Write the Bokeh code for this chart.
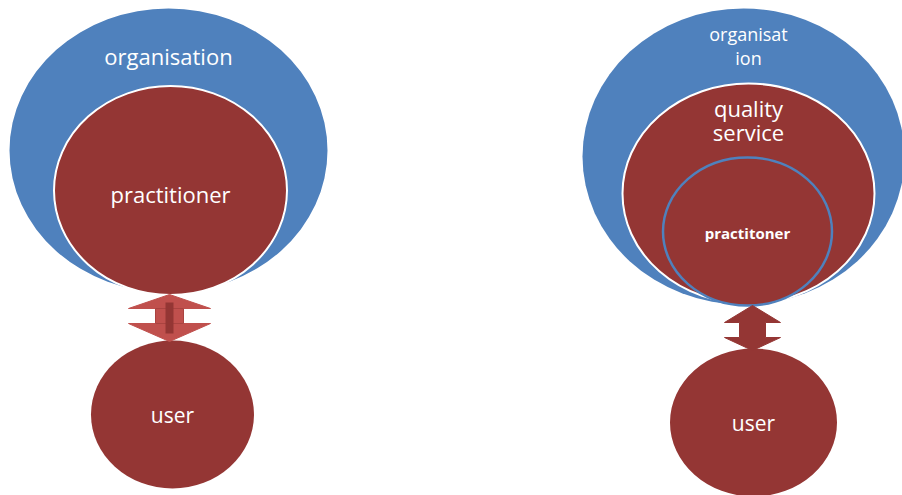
from bokeh.plotting import figure
from bokeh.models import Range1d
from bokeh.core.properties import value
from bokeh.embed import file_html
from bokeh.resources import INLINE

W, H = 902, 495
BLUE = "#4F81BD"
DARK = "#943634"
LIGHT = "#C0504D"

# Shapes in image-pixel coordinates (x right, y down); converted below
ell_names = ["org_left", "pract_left", "user_left", "org_right", "qual_right", "pract_right", "user_right"]
ell_x = [168, 170, 172, 743, 748, 747, 753]
ell_y = [150, 190, 414, 156, 193, 231, 422]
ell_w = [318, 233, 163, 322, 252, 169, 167]
ell_h = [284, 209, 148, 296, 220, 148, 148]
ell_fill = [BLUE, DARK, DARK, BLUE, DARK, DARK, DARK]
ell_line = [None, "white", None, None, "white", BLUE, None]
ell_lw = [0, 2, 0, 0, 2, 2.5, 0]

labels = ["organisation", "practitioner", "user", "organisat", "ion", "quality", "service", "practitoner", "user"]
lab_x = [168, 170, 172, 748, 748, 748, 748, 747, 753]
lab_y = [55, 193, 414, 33, 57, 107, 131, 232, 422]
lab_size = ["22px", "22px", "21px", "18px", "18px", "22px", "22px", "15px", "21px"]
lab_style = ["normal", "normal", "normal", "normal", "normal", "normal", "normal", "bold", "normal"]

# double arrows: cx, head half width, stem half width, top apex, top base, bottom base, bottom apex
arr_cx = [169, 752]
arr_head = [41, 28]
arr_stem = [14, 13]
arr_top = [294, 305]
arr_tb = [308, 322]
arr_bb = [323, 337]
arr_bot = [341, 350]
arr_col = [LIGHT, DARK]

def fy(v):
    return 495 - v

p = figure(width=W, height=H, output_backend="svg", toolbar_location=None,
           x_range=Range1d(0, W), y_range=Range1d(495 - H, 495),
           x_axis_location=None, y_axis_location=None, min_border=0)
p.grid.visible = False
p.outline_line_color = None
p.background_fill_color = "white"
p.border_fill_color = "white"

for i in range(len(ell_names)):
    kw = dict(x=ell_x[i], y=fy(ell_y[i]), width=ell_w[i], height=ell_h[i], fill_color=ell_fill[i])
    if ell_line[i] is None:
        kw["line_color"] = None
    else:
        kw["line_color"] = ell_line[i]
        kw["line_width"] = ell_lw[i]
    p.ellipse(**kw)

for i in range(len(arr_cx)):
    cx, hh, sh = arr_cx[i], arr_head[i], arr_stem[i]
    xs = [cx, cx + hh, cx + sh, cx + sh, cx + hh, cx, cx - hh, cx - sh, cx - sh, cx - hh]
    ys = [arr_top[i], arr_tb[i], arr_tb[i], arr_bb[i], arr_bb[i], arr_bot[i], arr_bb[i], arr_bb[i], arr_tb[i], arr_tb[i]]
    p.patch(xs, [fy(v) for v in ys], fill_color=arr_col[i], line_color=arr_col[i], line_width=1)
    if i == 0:
        p.quad(left=cx - 4, right=cx + 4, top=fy(arr_top[i] + 8), bottom=fy(arr_bot[i] - 8),
               fill_color=DARK, line_color=None)
        p.quad(left=cx - sh, right=cx + sh, top=fy(arr_tb[i]), bottom=fy(arr_bb[i]),
               fill_color=None, line_color=DARK, line_alpha=0.5, line_width=1)

for i in range(len(labels)):
    p.text(x=[lab_x[i]], y=[fy(lab_y[i])], text=[labels[i]], text_color="white",
           text_font=value("Open Sans"), text_font_size=lab_size[i],
           text_font_style=lab_style[i], text_align="center", text_baseline="middle")

open("out.html", "w").write(file_html(p, INLINE))
